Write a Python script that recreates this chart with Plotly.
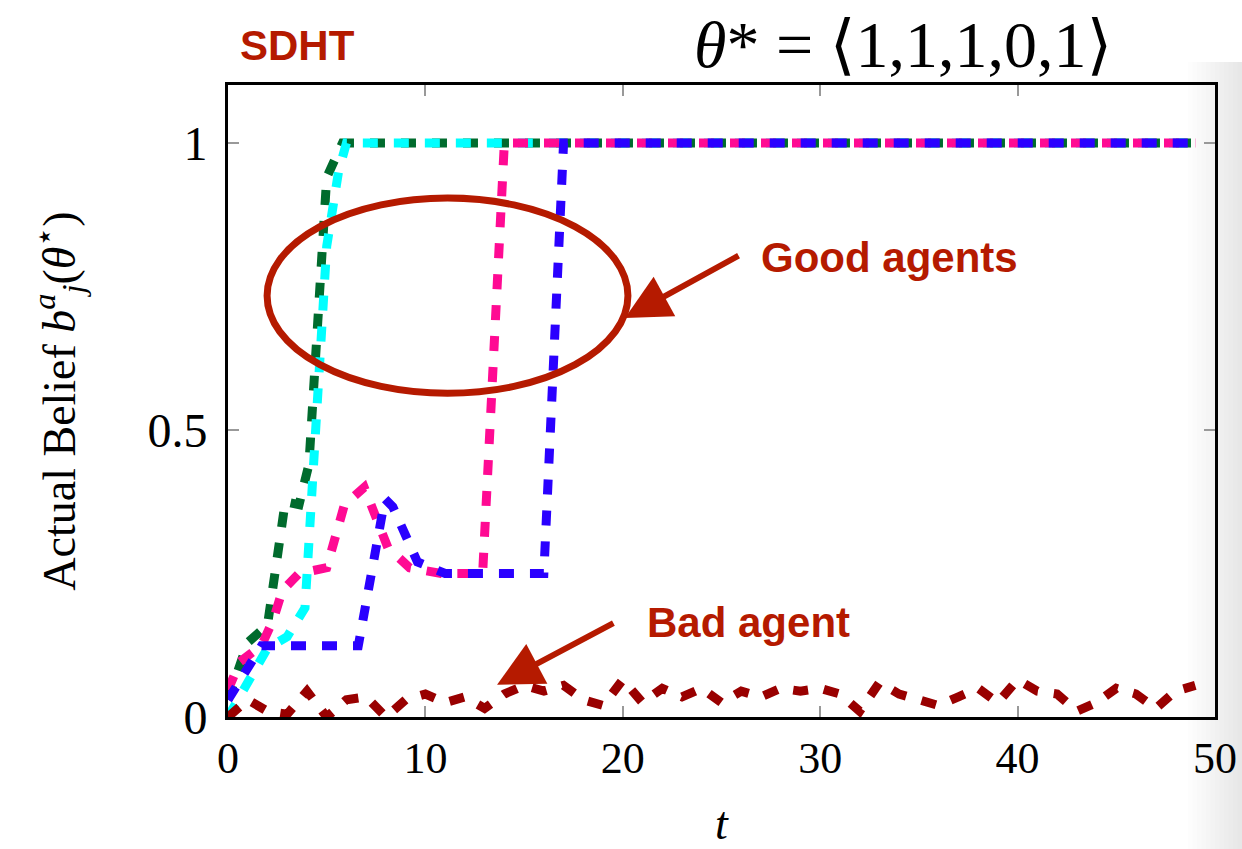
import plotly.graph_objects as go

# ---- data ----
green_t = [0, 1, 2, 2.9, 3.6, 4.1, 5.0, 5.8, 49]
green_v = [0.03, 0.13, 0.16, 0.375, 0.37, 0.44, 0.94, 1.0, 1.0]

cyan_t = [0, 1, 2, 3, 3.9, 4.3, 5.0, 5.6, 6.0, 49]
cyan_v = [0.0, 0.06, 0.12, 0.14, 0.19, 0.42, 0.82, 0.95, 1.0, 1.0]

pink_t = [0, 0.6, 1.7, 2.3, 2.75, 3.6, 5.0, 5.9, 6.9, 7.6, 8.1, 9.2, 10.8, 12.9, 14.0, 49]
pink_v = [0.047, 0.096, 0.125, 0.17, 0.22, 0.25, 0.26, 0.37, 0.40, 0.343, 0.295, 0.26, 0.25, 0.25, 1.0, 1.0]

blue_t = [0, 1.7, 6.6, 7.95, 8.35, 9.6, 11, 16, 17, 49]
blue_v = [0.03, 0.124, 0.124, 0.38, 0.366, 0.27, 0.25, 0.25, 1.0, 1.0]

bad_t = list(range(50))
bad_v = [0.0, 0.03, 0.01, 0.005, 0.045, 0.0, 0.03, 0.035, 0.0, 0.03,
         0.04, 0.025, 0.035, 0.015, 0.04, 0.055, 0.045, 0.055, 0.03, 0.02,
         0.065, 0.025, 0.05, 0.035, 0.05, 0.025, 0.045, 0.035, 0.05, 0.045,
         0.05, 0.04, 0.01, 0.06, 0.04, 0.03, 0.02, 0.035, 0.05, 0.025,
         0.065, 0.045, 0.04, 0.01, 0.025, 0.05, 0.04, 0.015, 0.045, 0.055]

x_ticks = [0, 10, 20, 30, 40, 50]
y_ticks = [0, 0.5, 1]
y_tick_labels = ["0", "0.5", "1"]

series = [
    (green_t, green_v, "#006B2D"),
    (cyan_t, cyan_v, "#00FFFF"),
    (pink_t, pink_v, "#FF0A93"),
    (blue_t, blue_v, "#2A00FF"),
    (bad_t, bad_v, "#990000"),
]

RED = "#B51A00"
SERIF = "Liberation Serif, DejaVu Serif, serif"
SANS = "Liberation Sans, Arial, sans-serif"

fig = go.Figure()
for t, v, c in series:
    fig.add_trace(go.Scatter(x=t, y=v, mode="lines",
                             line=dict(color=c, width=9, dash="15px,16px"),
                             showlegend=False, hoverinfo="skip"))

# right-side page shadow (soft gradient)
n = 12
for i in range(n):
    px0 = 1188 + i * 4.5
    fig.add_shape(type="rect", xref="paper", yref="paper",
                  x0=(px0 - 228) / 987, x1=(1242 - 228) / 987,
                  y0=(717 - 849) / 632, y1=(717 - 62) / 632,
                  fillcolor="rgba(0,0,0,0.0075)", line=dict(width=0), layer="below")

# ellipse
fig.add_shape(type="circle", xref="x", yref="y", x0=1.98, x1=20.26, y0=0.564, y1=0.904,
              line=dict(color=RED, width=7))

# arrows
fig.add_annotation(x=20.11, y=0.695, ax=25.94, ay=0.805, xref="x", yref="y",
                   axref="x", ayref="y", text="", showarrow=True,
                   arrowhead=2, arrowsize=1.5, arrowwidth=6, arrowcolor=RED)
fig.add_annotation(x=13.63, y=0.056, ax=19.6, ay=0.165, xref="x", yref="y",
                   axref="x", ayref="y", text="", showarrow=True,
                   arrowhead=2, arrowsize=1.5, arrowwidth=6, arrowcolor=RED)

# texts
fig.add_annotation(x=26.9, y=0.80, xref="x", yref="y", text="<b>Good agents</b>",
                   showarrow=False, xanchor="left", yanchor="middle",
                   font=dict(family=SANS, size=42, color=RED))
fig.add_annotation(x=21.1, y=0.165, xref="x", yref="y", text="<b>Bad agent</b>",
                   showarrow=False, xanchor="left", yanchor="middle",
                   font=dict(family=SANS, size=42, color=RED))
fig.add_annotation(x=(238 - 228) / 987, y=(717 - 45) / 632, xref="paper", yref="paper",
                   text="<b>SDHT</b>", showarrow=False, xanchor="left", yanchor="middle",
                   font=dict(family=SANS, size=42, color=RED))
fig.add_annotation(x=(903 - 228) / 987, y=(717 - 44) / 632, xref="paper", yref="paper",
                   text="<i>θ</i>* = ⟨1,1,1,0,1⟩", showarrow=False,
                   xanchor="center", yanchor="middle",
                   font=dict(family=SERIF, size=66, color="black"))

fig.update_layout(
    width=1242, height=849,
    margin=dict(l=228, r=27, t=85, b=132),
    paper_bgcolor="white", plot_bgcolor="rgba(0,0,0,0)",
    xaxis=dict(range=[0, 50], tickvals=x_ticks, ticktext=[str(v) for v in x_ticks],
               showgrid=False, zeroline=False, showline=True, linecolor="black",
               linewidth=3, mirror="allticks", ticks="inside", ticklen=11,
               tickcolor="#999999", tickwidth=1.5, automargin=False,
               tickfont=dict(family=SERIF, size=44, color="black"),
               title=dict(text="<i>t</i>", font=dict(family=SERIF, size=46, color="black"),
                          standoff=36)),
    yaxis=dict(range=[0, 1.101], tickvals=y_ticks, ticktext=y_tick_labels,
               showgrid=False, zeroline=False, showline=True, linecolor="black",
               linewidth=3, mirror="allticks", ticks="inside", ticklen=11,
               tickcolor="#999999", tickwidth=1.5, ticklabelstandoff=8, automargin=False,
               tickfont=dict(family=SERIF, size=48, color="black"),
               title=dict(text="Actual Belief <i>b</i><sup><i>a</i></sup><sub><i>j</i></sub>(<i>θ</i><sup>⋆</sup>)",
                          font=dict(family=SERIF, size=46, color="black"), standoff=58)),
)

fig.write_html("out.html")
